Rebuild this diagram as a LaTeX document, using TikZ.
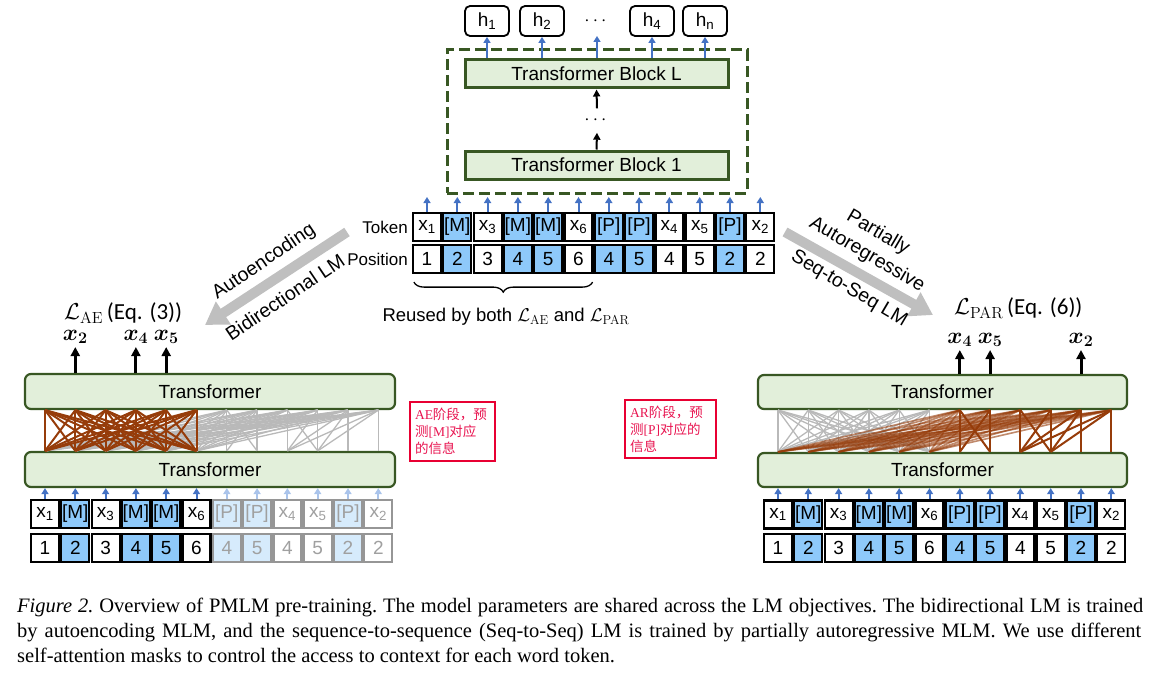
\RequirePackage{fix-cm}
\documentclass[tikz,border=0pt]{standalone}
\usepackage{amsmath}
\usepackage[no-math]{fontspec}
\setmainfont{Liberation Sans}
\newfontfamily\serifrm{Liberation Serif}
\newfontfamily\calib{Carlito}
\newfontfamily\cjk{Noto Sans CJK SC}
\usetikzlibrary{arrows.meta,decorations.pathreplacing,calc}
\newcommand\fsz[1]{\fontsize{#1}{#1}\selectfont}
\definecolor{tgreen}{RGB}{56,87,35}
\definecolor{tfill}{RGB}{226,239,218}
\definecolor{mblue}{RGB}{142,201,250}
\definecolor{lblue}{RGB}{214,235,252}
\definecolor{ablue}{RGB}{68,114,196}
\definecolor{fablue}{RGB}{170,196,235}
\definecolor{fgray}{RGB}{150,150,150}
\definecolor{ftext}{RGB}{160,160,160}
\definecolor{lbrown}{RGB}{150,60,10}
\definecolor{lgray}{RGB}{185,185,185}
\definecolor{biggray}{RGB}{191,191,191}
\definecolor{rboxc}{RGB}{232,0,50}
\definecolor{rtext}{RGB}{232,20,80}
\begin{document}
\begin{tikzpicture}[x=1pt,y=-1pt,
  tok/.style={draw=black, line width=2.2pt, minimum width=28pt, minimum height=28pt, inner sep=0pt, font=\fsz{19}},
  ftok/.style={tok, draw=fgray, text=ftext},
  tblock/.style={draw=tgreen, line width=3pt, fill=tfill, minimum width=263pt, minimum height=28pt, inner sep=0pt, font=\fsz{19}},
  tpanel/.style={draw=tgreen, line width=2.2pt, fill=tfill, rounded corners=6pt, minimum width=370pt, minimum height=35pt, inner sep=0pt, font=\fsz{19}},
  hbox/.style={draw=black, line width=1.8pt, rounded corners=5pt, minimum width=44pt, minimum height=30pt, inner sep=0pt, font=\fsz{19}},
  barrow/.style={draw=ablue, line width=2pt, -{Triangle[length=6pt,width=7pt]}},
  fbarrow/.style={draw=fablue, line width=2pt, -{Triangle[length=6pt,width=7pt]}},
  karrow/.style={draw=black, line width=2pt, -{Triangle[length=7pt,width=7pt]}},
  kbig/.style={draw=black, line width=3pt, -{Triangle[length=9pt,width=9pt]}},
  bigarrow/.style={draw=biggray, line width=10pt, -{Triangle[length=22pt,width=26pt]}},
  gline/.style={draw=lgray, line width=1.3pt},
  bline/.style={draw=lbrown, line width=2pt},
  rbox/.style={draw=rboxc, line width=2.5pt, text=rtext, align=left, inner sep=4pt, font=\fontsize{13.5}{17}\selectfont},
  lbl/.style={font=\fsz{17}, inner sep=0pt},
  rot/.style={font=\fsz{19.5}, inner sep=0pt},
  outl/.style={font=\fsz{23}, inner sep=1pt}
]
\useasboundingbox (0,0) rectangle (1160,677);

% ---------- top: encoder stack ----------
\node[draw=tgreen, line width=3pt, dash pattern=on 11pt off 5pt, minimum width=300pt, minimum height=143pt, inner sep=0pt] (dbox) at (597,121.5) {};
\node[tblock] (BL) at (596.5,74) {Transformer Block L};
\node[tblock] (B1) at (596.5,165) {Transformer Block 1};
\node[font=\fsz{19}, minimum height=24pt, inner sep=0pt] (vd) at (597,120.5) {$\cdots$};
\draw[karrow] (B1.north) -- (vd.south);
\draw[karrow] (vd.north) -- (BL.south);

\node[hbox] (h1) at (487,21) {h\textsubscript{1}};
\node[hbox] (h2) at (542,21) {h\textsubscript{2}};
\node[font=\fsz{19}, inner sep=0pt] (hd) at (597,21) {$\cdots$};
\node[hbox] (h4) at (652,21) {h\textsubscript{4}};
\node[hbox] (hn) at (705,21) {h\textsubscript{n}};
\coordinate (hdb) at (597,36);
\draw[barrow] (h1 |- BL.north) -- (h1.south);
\draw[barrow] (h2 |- BL.north) -- (h2.south);
\draw[barrow] (hdb |- BL.north) -- (hdb);
\draw[barrow] (h4 |- BL.north) -- (h4.south);
\draw[barrow] (hn |- BL.north) -- (hn.south);

% ---------- centre input rows ----------
\foreach [count=\k] \tk/\f in {x\textsubscript{1}/white,{[M]}/mblue,x\textsubscript{3}/white,{[M]}/mblue,{[M]}/mblue,x\textsubscript{6}/white,{[P]}/mblue,{[P]}/mblue,x\textsubscript{4}/white,x\textsubscript{5}/white,{[P]}/mblue,x\textsubscript{2}/white}{
  \pgfmathsetmacro\xx{427+30.3*(\k-1)}
  \node[tok, fill=\f] (c\k) at (\xx,227) {\tk};
  \coordinate (ca\k) at (\xx,197);
  \draw[barrow] (c\k.north) -- (ca\k);
}
\foreach [count=\k] \tk/\f in {1/white,2/mblue,3/white,4/mblue,5/mblue,6/white,4/mblue,5/mblue,4/white,5/white,2/mblue,2/white}{
  \pgfmathsetmacro\xx{427+30.3*(\k-1)}
  \node[tok, fill=\f] (cp\k) at (\xx,259) {\tk};
}
\node[lbl, anchor=east] (tokl) at (408,227) {Token};
\node[lbl, anchor=east] (posl) at (408,259) {Position};
\draw[decorate, decoration={brace, mirror, amplitude=10pt}, line width=1.3pt] ($(cp1.south west)+(2,8)$) -- ($(cp6.south east)+(-1,8)$);
\node[font=\fsz{18.5}, inner sep=0pt] (reuse) at (506,317) {Reused by both $\mathcal{L}_{\mathrm{AE}}$ and $\mathcal{L}_{\mathrm{PAR}}$};

% ---------- big grey arrows ----------
\coordinate (bal) at (347,232);
\coordinate (bae) at (205,325);
\draw[bigarrow] (bal) -- (bae);
\node[rot, rotate=34] (ae1) at (264,262) {Autoencoding};
\node[rot, rotate=34] (ae2) at (285,297) {Bidirectional LM};
\coordinate (bar) at (785,232);
\coordinate (bre) at (933,315);
\draw[bigarrow] (bar) -- (bre);
\node[rot, rotate=-30.5] (pa1) at (878,233) {Partially};
\node[rot, rotate=-30.5] (pa2) at (867,255) {Autoregressive};
\node[rot, rotate=-30.5] (pa3) at (849,289) {Seq-to-Seq LM};

% ---------- left panel ----------
\node[tpanel] (LTu) at (210,391.5) {Transformer};
\node[tpanel] (LTl) at (210,469.5) {Transformer};
\foreach [count=\k] \tk/\f in {x\textsubscript{1}/white,{[M]}/mblue,x\textsubscript{3}/white,{[M]}/mblue,{[M]}/mblue,x\textsubscript{6}/white}{
  \pgfmathsetmacro\xx{45+30.3*(\k-1)}
  \node[tok, fill=\f] (l\k) at (\xx,514) {\tk};
  \draw[barrow] (l\k.north) -- (l\k |- LTl.south);
}
\foreach [count=\k from 7] \tk/\f in {{[P]}/lblue,{[P]}/lblue,x\textsubscript{4}/white,x\textsubscript{5}/white,{[P]}/lblue,x\textsubscript{2}/white}{
  \pgfmathsetmacro\xx{45+30.3*(\k-1)}
  \node[ftok, fill=\f] (l\k) at (\xx,514) {\tk};
  \draw[fbarrow] (l\k.north) -- (l\k |- LTl.south);
}
\foreach [count=\k] \tk/\f in {1/white,2/mblue,3/white,4/mblue,5/mblue,6/white}{
  \pgfmathsetmacro\xx{45+30.3*(\k-1)}
  \node[tok, fill=\f] (lp\k) at (\xx,548) {\tk};
}
\foreach [count=\k from 7] \tk/\f in {4/lblue,5/lblue,4/white,5/white,2/lblue,2/white}{
  \pgfmathsetmacro\xx{45+30.3*(\k-1)}
  \node[ftok, fill=\f] (lp\k) at (\xx,548) {\tk};
}
% attention lines (left)
\foreach \i in {7,...,12}{\foreach \j in {1,...,6}{\draw[gline] (l\i |- LTu.south) -- (l\j |- LTl.north);}}
\foreach \i/\j in {7/7,7/8,8/7,8/8,9/9,9/10,10/9,10/10,11/9,11/10,11/11,12/9,12/10,12/12}{\draw[gline] (l\i |- LTu.south) -- (l\j |- LTl.north);}
\foreach \i in {1,...,6}{\foreach \j in {1,...,6}{\draw[bline] (l\i |- LTu.south) -- (l\j |- LTl.north);}}
% outputs (left)
\node[outl] (ox2) at (l2 |- 0,337) {$\boldsymbol{x}_{\mathbf{2}}$};
\node[outl] (ox4) at (l4 |- 0,337) {$\boldsymbol{x}_{\mathbf{4}}$};
\node[outl] (ox5) at (l5 |- 0,337) {$\boldsymbol{x}_{\mathbf{5}}$};
\draw[kbig] (ox2.south |- LTu.north) -- ($(ox2.south)+(0,2)$);
\draw[kbig] (ox4.south |- LTu.north) -- ($(ox4.south)+(0,2)$);
\draw[kbig] (ox5.south |- LTu.north) -- ($(ox5.south)+(0,2)$);
\node[font=\fsz{23}, inner sep=0pt, anchor=west] (lae) at (64,313) {$\mathcal{L}_{\mathrm{AE}}$\,{\calib (Eq. (3))}};

% ---------- right panel ----------
\node[tpanel, minimum width=369pt, minimum height=34pt] (RTu) at (942.5,392) {Transformer};
\node[tpanel, minimum width=369pt, minimum height=34pt] (RTl) at (942.5,470) {Transformer};
\foreach [count=\k] \tk/\f in {x\textsubscript{1}/white,{[M]}/mblue,x\textsubscript{3}/white,{[M]}/mblue,{[M]}/mblue,x\textsubscript{6}/white,{[P]}/mblue,{[P]}/mblue,x\textsubscript{4}/white,x\textsubscript{5}/white,{[P]}/mblue,x\textsubscript{2}/white}{
  \pgfmathsetmacro\xx{778+30.3*(\k-1)}
  \node[tok, fill=\f] (r\k) at (\xx,514.5) {\tk};
  \draw[barrow] (r\k.north) -- (r\k |- RTl.south);
}
\foreach [count=\k] \tk/\f in {1/white,2/mblue,3/white,4/mblue,5/mblue,6/white,4/mblue,5/mblue,4/white,5/white,2/mblue,2/white}{
  \pgfmathsetmacro\xx{778+30.3*(\k-1)}
  \node[tok, fill=\f] (rp\k) at (\xx,548) {\tk};
}
% attention lines (right)
\foreach \i in {1,...,6}{\foreach \j in {1,...,6}{\draw[gline] (r\i |- RTu.south) -- (r\j |- RTl.north);}}
\foreach \i in {7,...,12}{\foreach \j in {1,...,6}{\draw[bline, line width=1.6pt, draw opacity=0.6] (r\i |- RTu.south) -- (r\j |- RTl.north);}}
\foreach \i/\j in {7/7,7/8,8/7,8/8,9/9,9/10,10/9,10/10,11/9,11/10,11/11,12/9,12/10,12/12}{\draw[bline] (r\i |- RTu.south) -- (r\j |- RTl.north);}
% outputs (right)
\node[outl] (oy4) at (r7 |- 0,340) {$\boldsymbol{x}_{\mathbf{4}}$};
\node[outl] (oy5) at (r8 |- 0,340) {$\boldsymbol{x}_{\mathbf{5}}$};
\node[outl] (oy2) at (r11 |- 0,340) {$\boldsymbol{x}_{\mathbf{2}}$};
\draw[kbig] (oy4.south |- RTu.north) -- ($(oy4.south)+(0,2)$);
\draw[kbig] (oy5.south |- RTu.north) -- ($(oy5.south)+(0,2)$);
\draw[kbig] (oy2.south |- RTu.north) -- ($(oy2.south)+(0,2)$);
\node[font=\fsz{23}, inner sep=0pt, anchor=west] (lpar) at (954,308) {$\mathcal{L}_{\mathrm{PAR}}$\,{\calib (Eq. (6))}};

% ---------- red note boxes ----------
\node[rbox, text width=75pt, minimum width=85pt, minimum height=59pt] (note1) at (452.5,431.5) {{\serifrm AE}{\cjk 阶段，预}\\{\cjk 测}{\serifrm [M]}{\cjk 对应}\\{\cjk 的信息}};
\node[rbox, text width=81pt, minimum width=91pt, minimum height=58pt] (note2) at (670.5,429) {{\serifrm AR}{\cjk 阶段，预}\\{\cjk 测}{\serifrm [P]}{\cjk 对应的}\\{\cjk 信息}};

% ---------- caption ----------
\node[anchor=base west, inner sep=0pt, font=\serifrm\fsz{20.5}\frenchspacing] (cap1) at (17,612) {\makebox[1126pt][s]{\textit{Figure 2.} Overview of PMLM pre-training. The model parameters are shared across the LM objectives. The bidirectional LM is trained}};
\node[anchor=base west, inner sep=0pt, font=\serifrm\fsz{20.5}\frenchspacing] (cap2) at (17,637) {\makebox[1124pt][s]{by autoencoding MLM, and the sequence-to-sequence (Seq-to-Seq) LM is trained by partially autoregressive MLM. We use different}};
\node[anchor=base west, inner sep=0pt, font=\serifrm\fsz{20.5}\frenchspacing] (cap3) at (17,662) {self-attention masks to control the access to context for each word token.};
\end{tikzpicture}
\end{document}
